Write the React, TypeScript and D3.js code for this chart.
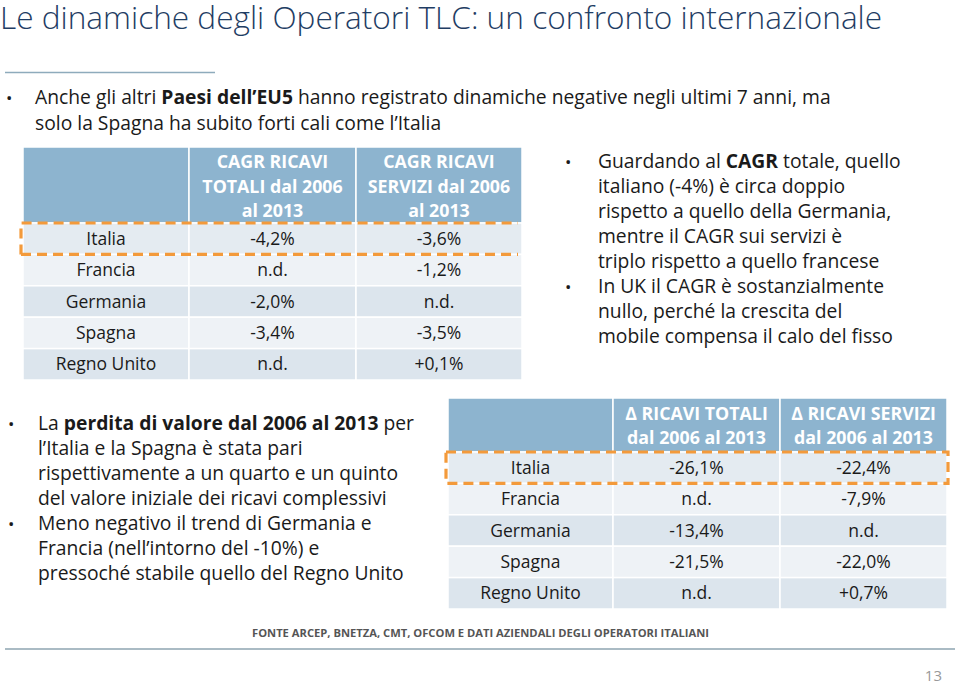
import React from "react";
import * as d3 from "d3";

const countries = ["Italia", "Francia", "Germania", "Spagna", "Regno Unito"];
const cagrTotali = ["-4,2%", "n.d.", "-2,0%", "-3,4%", "n.d."];
const cagrServizi = ["-3,6%", "-1,2%", "n.d.", "-3,5%", "+0,1%"];
const deltaTotali = ["-26,1%", "n.d.", "-13,4%", "-21,5%", "n.d."];
const deltaServizi = ["-22,4%", "-7,9%", "n.d.", "-22,0%", "+0,7%"];
const cagrHeaders = [
  ["CAGR RICAVI", "TOTALI dal 2006", "al 2013"],
  ["CAGR RICAVI", "SERVIZI dal 2006", "al 2013"],
];
const deltaHeaders = [
  ["Δ RICAVI TOTALI", "dal 2006 al 2013"],
  ["Δ RICAVI SERVIZI", "dal 2006 al 2013"],
];

type Seg = { t: string; b?: boolean };
const introLines: Seg[][] = [
  [{ t: "Anche gli altri " }, { t: "Paesi dell’EU5", b: true }, { t: " hanno registrato dinamiche negative negli ultimi 7 anni, ma" }],
  [{ t: "solo la Spagna ha subito forti cali come l’Italia" }],
];
const rightLines: { bullet: boolean; segs: Seg[] }[] = [
  { bullet: true, segs: [{ t: "Guardando al " }, { t: "CAGR", b: true }, { t: " totale, quello" }] },
  { bullet: false, segs: [{ t: "italiano (-4%) è circa doppio" }] },
  { bullet: false, segs: [{ t: "rispetto a quello della Germania," }] },
  { bullet: false, segs: [{ t: "mentre il CAGR sui servizi è" }] },
  { bullet: false, segs: [{ t: "triplo rispetto a quello francese" }] },
  { bullet: true, segs: [{ t: "In UK il CAGR è sostanzialmente" }] },
  { bullet: false, segs: [{ t: "nullo, perché la crescita del" }] },
  { bullet: false, segs: [{ t: "mobile compensa il calo del fisso" }] },
];
const leftLines: { bullet: boolean; segs: Seg[] }[] = [
  { bullet: true, segs: [{ t: "La " }, { t: "perdita di valore dal 2006 al 2013", b: true }, { t: " per" }] },
  { bullet: false, segs: [{ t: "l’Italia e la Spagna è stata pari" }] },
  { bullet: false, segs: [{ t: "rispettivamente a un quarto e un quinto" }] },
  { bullet: false, segs: [{ t: "del valore iniziale dei ricavi complessivi" }] },
  { bullet: true, segs: [{ t: "Meno negativo il trend di Germania e" }] },
  { bullet: false, segs: [{ t: "Francia (nell’intorno del -10%) e" }] },
  { bullet: false, segs: [{ t: "pressoché stabile quello del Regno Unito" }] },
];
const footer = "FONTE ARCEP, BNETZA, CMT, OFCOM E DATI AZIENDALI DEGLI OPERATORI ITALIANI";
const pageNum = "13";

const FONT = "'Open Sans', 'Noto Sans', sans-serif";
const HEADER_BG = "#8db4cf";
const ROW_BG = ["#e4ebf1", "#eef2f6", "#dce5ed", "#eef2f6", "#dce5ed"];
const ORANGE = "#f39a3b";
const TEXT = "#1a1a1a";
const BODY = 19.3;

function Segs({ segs }: { segs: Seg[] }) {
  return (
    <>
      {segs.map((s, i) => (
        <tspan key={i} fontWeight={s.b ? 700 : 400}>{s.t}</tspan>
      ))}
    </>
  );
}

function Table({
  x0, x1, x2, x3, yHead, yTop, yBottom, headers, col1, col2, headerLineGap, headerFirstBaseline, fullBox,
}: {
  x0: number; x1: number; x2: number; x3: number; yHead: number; yTop: number; yBottom: number;
  headers: string[][]; col1: string[]; col2: string[]; headerLineGap: number; headerFirstBaseline: number; fullBox: boolean;
}) {
  const y = d3.scaleBand<string>().domain(countries).range([yTop, yBottom]);
  const cols = [x0, x1, x2, x3];
  const cx = (i: number) => (cols[i] + cols[i + 1]) / 2;
  const values = [countries, col1, col2];
  return (
    <g>
      {[0, 1, 2].map((c) => (
        <rect key={"h" + c} x={cols[c]} y={yHead} width={cols[c + 1] - cols[c]} height={yTop - yHead}
          fill={HEADER_BG} stroke="#fff" strokeWidth={1.5} />
      ))}
      {headers.map((lines, c) => (
        <text key={"ht" + c} x={cx(c + 1)} textAnchor="middle" fill="#fff" fontWeight={700} fontSize={17.8} fontFamily={FONT}>
          {lines.map((l, k) => (
            <tspan key={k} x={cx(c + 1)} y={headerFirstBaseline + k * headerLineGap}>{l}</tspan>
          ))}
        </text>
      ))}
      {countries.map((ct, r) => (
        <g key={ct}>
          {[0, 1, 2].map((c) => (
            <rect key={c} x={cols[c]} y={y(ct)!} width={cols[c + 1] - cols[c]} height={y.bandwidth()}
              fill={ROW_BG[r]} stroke="#fff" strokeWidth={1.5} />
          ))}
          {[0, 1, 2].map((c) => (
            <text key={"t" + c} x={cx(c)} y={y(ct)! + y.bandwidth() / 2 + 6} textAnchor="middle"
              fontSize={17.5} fill={TEXT} fontFamily={FONT}>{values[c][r]}</text>
          ))}
        </g>
      ))}
      {fullBox ? (
        <rect x={x0 - 2} y={y("Italia")!} width={x3 - x0 + 3} height={y.bandwidth()} fill="none"
          stroke={ORANGE} strokeWidth={3.2} strokeDasharray="10 6" />
      ) : (
        <path d={`M${x0 - 2},${y("Italia")! + y.bandwidth()}V${y("Italia")!}H${x3 - 4}M${x0 - 2},${y("Italia")! + y.bandwidth()}H${x3 - 4}`}
          fill="none" stroke={ORANGE} strokeWidth={3.2} strokeDasharray="10 6" />
      )}
    </g>
  );
}

export default function App() {
  return (
    <svg width={960} height={686} style={{ position: "absolute", left: 0, top: 0, background: "#fff" }}>
      <text x={0} y={29} fontSize={31.6} fontWeight={300} fill="#1f3d64" fontFamily={FONT}>
        Le dinamiche degli Operatori TLC: un confronto internazionale
      </text>
      <line x1={5} x2={215} y1={72.5} y2={72.5} stroke="#8eabbc" strokeWidth={1.5} />
      {introLines.map((segs, i) => (
        <g key={i}>
          {i === 0 && <text x={6} y={104} fontSize={17} fill={TEXT} fontFamily={FONT}>•</text>}
          <text x={35} y={104 + i * 26} fontSize={BODY} fill={TEXT} fontFamily={FONT}><Segs segs={segs} /></text>
        </g>
      ))}
      <Table x0={23} x1={189} x2={356} x3={522} yHead={147} yTop={223} yBottom={380}
        headers={cagrHeaders} col1={cagrTotali} col2={cagrServizi} headerLineGap={24.5} headerFirstBaseline={168} fullBox={false} />
      {rightLines.map((l, i) => (
        <g key={i}>
          {l.bullet && <text x={565} y={168 + i * 25} fontSize={17} fill={TEXT} fontFamily={FONT}>•</text>}
          <text x={598} y={168 + i * 25} fontSize={BODY} fill={TEXT} fontFamily={FONT}><Segs segs={l.segs} /></text>
        </g>
      ))}
      <Table x0={448} x1={613} x2={780} x3={947} yHead={398} yTop={452} yBottom={609}
        headers={deltaHeaders} col1={deltaTotali} col2={deltaServizi} headerLineGap={24} headerFirstBaseline={420} fullBox={true} />
      {leftLines.map((l, i) => (
        <g key={i}>
          {l.bullet && <text x={8} y={430 + i * 25} fontSize={17} fill={TEXT} fontFamily={FONT}>•</text>}
          <text x={38} y={430 + i * 25} fontSize={BODY} fill={TEXT} fontFamily={FONT}><Segs segs={l.segs} /></text>
        </g>
      ))}
      <text x={252} y={637} fontSize={11.2} fontWeight={700} fill="#555" fontFamily={FONT}>{footer}</text>
      <line x1={5} x2={955} y1={649} y2={649} stroke="#8ea5b0" strokeWidth={1.5} />
      <text x={942} y={681} textAnchor="end" fontSize={15} fill="#999" fontFamily={FONT}>{pageNum}</text>
    </svg>
  );
}
